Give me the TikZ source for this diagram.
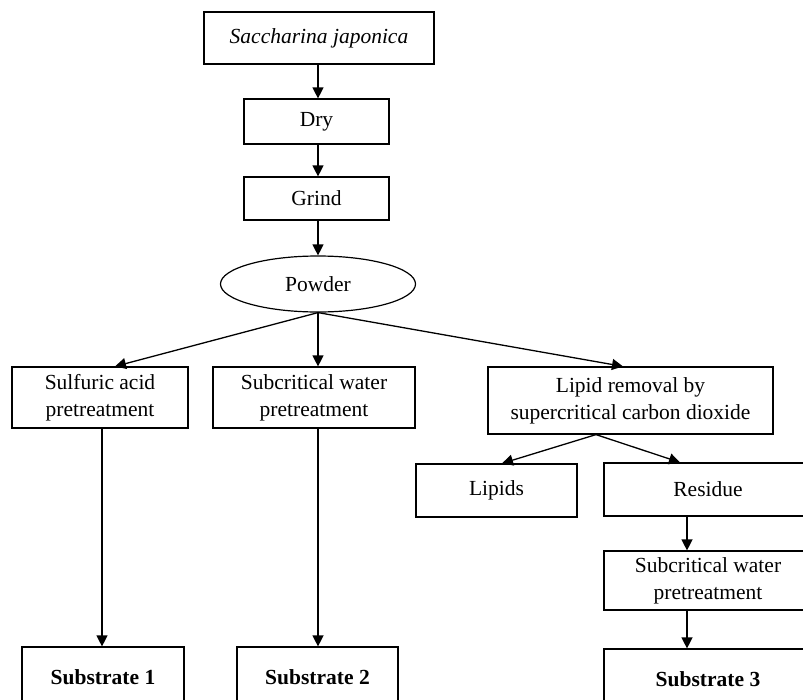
\documentclass[tikz,border=0pt]{standalone}
\usepackage{fontspec}
\setmainfont{Liberation Serif}
\usetikzlibrary{arrows.meta,shapes.geometric}
\tikzset{
  box/.style={draw, line width=1.2pt, rectangle, inner sep=0pt, align=center, font=\fontsize{21.5}{27}\selectfont},
  oval/.style={draw, line width=1.2pt, ellipse, inner sep=0pt, font=\fontsize{21.5}{27}\selectfont},
  arr/.style={line width=1.3pt, -{Triangle[length=11pt,width=11pt]}}
}
\begin{document}
\begin{tikzpicture}[x=1pt,y=-1pt]
\useasboundingbox (0,0) rectangle (803,699);
\clip (0,0) rectangle (803,699);
\fill[white] (0,0) rectangle (803,699);
\node[box, minimum width=230pt, minimum height=52pt] (sacch) at (319,38) {\itshape Saccharina japonica};
\node[box, minimum width=145pt, minimum height=45pt] (dry) at (316.5,121.5) {Dry};
\node[box, minimum width=145pt, minimum height=43pt] (grind) at (316.5,198.5) {Grind};
\node[oval, minimum width=195pt, minimum height=56pt] (powder) at (318,284) {Powder};
\node[box, minimum width=176pt, minimum height=61pt] (sulf) at (100,397.5) {Sulfuric acid\\pretreatment};
\node[box, minimum width=202pt, minimum height=61pt] (subA) at (314,397.5) {Subcritical water\\pretreatment};
\node[box, minimum width=285pt, minimum height=67pt] (lipid) at (630.5,400.5) {Lipid removal by\\supercritical carbon dioxide};
\node[box, minimum width=161pt, minimum height=53pt] (lipids) at (496.5,490.5) {Lipids};
\node[box, minimum width=208pt, minimum height=53pt] (residue) at (708,489.5) {Residue};
\node[box, minimum width=208pt, minimum height=59pt] (subB) at (708,580.5) {Subcritical water\\pretreatment};
\node[box, minimum width=162pt, minimum height=60pt] (s1) at (103,677) {\bfseries Substrate 1};
\node[box, minimum width=161pt, minimum height=60pt] (s2) at (317.5,677) {\bfseries Substrate 2};
\node[box, minimum width=208pt, minimum height=60pt] (s3) at (708,679) {\bfseries Substrate 3};
% connectors
\draw[arr] ([xshift=-1pt]sacch.south) -- ([xshift=1.5pt]dry.north);
\draw[arr] ([xshift=1.5pt]dry.south) -- ([xshift=1.5pt]grind.north);
\draw[arr] ([xshift=1.5pt]grind.south) -- (powder.north);
\draw[arr] (powder.south) -- ([xshift=15pt]sulf.north);
\draw[arr] (powder.south) -- (powder.south |- subA.north);
\draw[arr] (powder.south) -- ([xshift=-7.5pt]lipid.north);
\draw[arr] ([xshift=-34.5pt]lipid.south) -- ([xshift=5.5pt]lipids.north);
\draw[arr] ([xshift=-34.5pt]lipid.south) -- ([xshift=-28pt]residue.north);
\draw[arr] ([xshift=-21pt]residue.south) -- ([xshift=-21pt]subB.north);
\draw[arr] ([xshift=-21pt]subB.south) -- ([xshift=-21pt]s3.north);
\draw[arr] ([xshift=2pt]sulf.south) -- ([xshift=-1pt]s1.north);
\draw[arr] (powder.south |- subA.south) -- (powder.south |- s2.north);
\end{tikzpicture}
\end{document}
